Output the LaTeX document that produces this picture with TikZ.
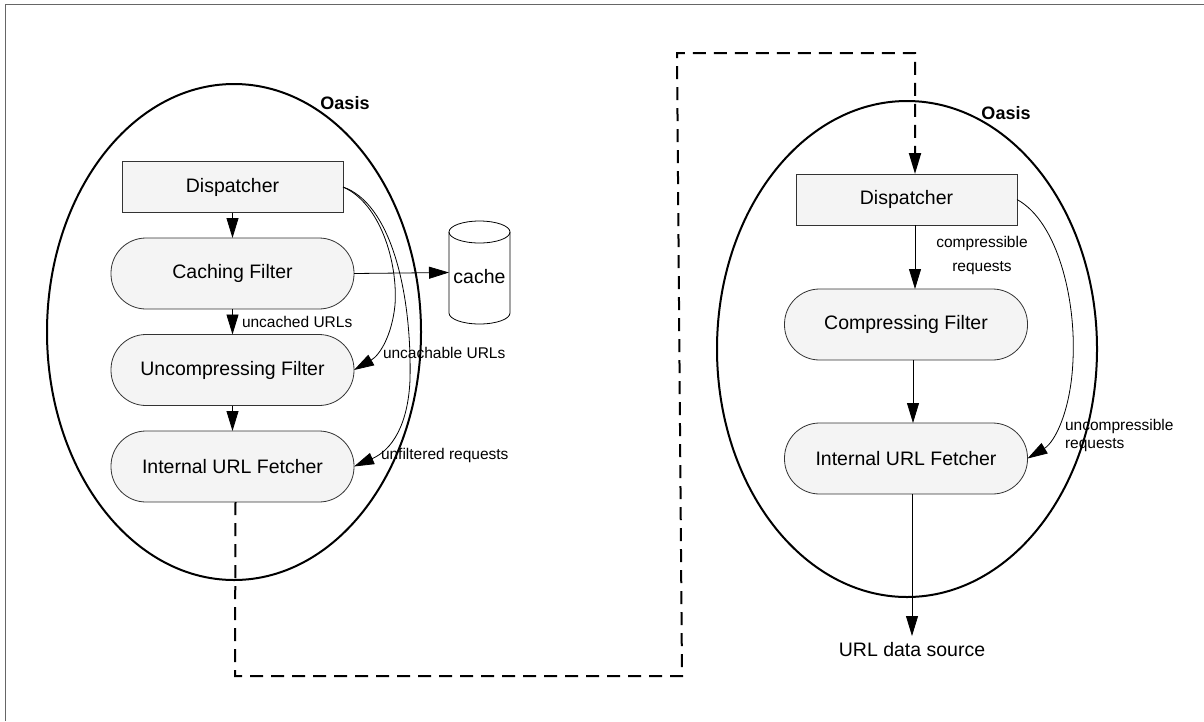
\documentclass[tikz,border=0pt]{standalone}
\usepackage{fontspec}
\setmainfont{Liberation Sans}
\usetikzlibrary{arrows.meta,shapes.geometric,calc}

\definecolor{boxfill}{HTML}{F4F4F4}
\definecolor{framegray}{HTML}{666666}

\begin{document}
\begin{tikzpicture}[x=1pt,y=-1pt,
  every node/.style={inner sep=0pt, outer sep=0pt},
  bigtxt/.style={font=\fontsize{19.5}{23}\selectfont},
  smalltxt/.style={font=\fontsize{15.5}{19}\selectfont},
  oasisring/.style={draw, ellipse, line width=2pt, inner sep=0pt},
  oasislabel/.style={font=\fontsize{18}{21}\selectfont\bfseries},
  dispbox/.style={draw=black!80, fill=boxfill, line width=0.8pt,
    minimum width=221pt, minimum height=51pt, bigtxt},
  filterbox/.style={draw=black!80, fill=boxfill, line width=0.8pt,
    rounded corners=35pt, minimum width=243pt, minimum height=71pt, bigtxt},
  flow/.style={line width=0.8pt, -{Triangle[length=20pt,width=12pt]}},
  hop/.style={line width=2pt, dash pattern=on 13pt off 8pt,
    -{Triangle[length=21pt,width=12pt]}},
]
\useasboundingbox (0,0) rectangle (1204,721);

% page frame (top and left edges)
\draw[framegray, line width=1.5pt] (5.5,721) -- (5.5,4.5) -- (1204,4.5);

% ---------- first Oasis node ----------
\node[oasisring, minimum width=374pt, minimum height=496pt] (oasisL) at (234,332) {};
\node[oasislabel] (oasisLlbl) at (345,103) {Oasis};

\node[dispbox] (dispL) at (232.5,187) {Dispatcher};
\node[filterbox] (cacheF) at (232.5,273.5) {Caching Filter};
\node[filterbox] (uncomp) at (232.5,370) {Uncompressing Filter};
\node[filterbox] (fetchL) at (232.5,466.5) {Internal URL Fetcher};

% cache store (cylinder drawn round an empty placeholder node)
\node[minimum width=61pt, minimum height=103pt] (cache) at (479.5,272.5) {};
\draw[line width=0.8pt, fill=white]
  (449,232) -- (449,313) arc[start angle=180, end angle=360, x radius=30.5pt, y radius=11pt]
  -- (510,232);
\draw[line width=0.8pt] (479.5,232) ellipse[x radius=30.5pt, y radius=11pt];
\node[bigtxt] (cachetxt) at (479.5,277) {cache};

\draw[flow] (dispL) -- (cacheF);
\draw[flow] (cacheF) -- (uncomp);
\draw[flow] (uncomp) -- (fetchL);
\draw[flow] (cacheF.east) -- (cache.west);

\node[smalltxt, anchor=west] (lblUncached) at (242,322) {uncached URLs};

% bypass routes out of the dispatcher
\draw[flow] (dispL.east)
  .. controls (380,203) and (398,262) .. (395,305)
  .. controls (392,335) and (380,355) .. (uncomp.east);
\draw[flow] (dispL.east)
  .. controls (390,203) and (412,290) .. (410,380)
  .. controls (408,425) and (392,450) .. (fetchL.east);
\node[smalltxt, anchor=west] (lblUncachable) at (383,353) {uncachable URLs};
\node[smalltxt, anchor=west] (lblUnfiltered) at (381,455) {unfiltered requests};

% ---------- second Oasis node ----------
\node[oasisring, minimum width=380pt, minimum height=496pt] (oasisR) at (907,349) {};
\node[oasislabel] (oasisRlbl) at (1006,113) {Oasis};

\node[dispbox] (dispR) at (906.5,199.5) {Dispatcher};
\node[filterbox] (compF) at (906,324.5) {Compressing Filter};
\node[filterbox] (fetchR) at (906,458.5) {Internal URL Fetcher};
\coordinate (source) at (912,636);
\node[bigtxt] (sourcelbl) at (912,650) {URL data source};

\draw[flow] ([xshift=8.5pt]dispR.south) -- ([xshift=9pt]compF.north);
\draw[flow] ([xshift=7pt]compF.south) -- ([xshift=7pt]fetchR.north);
\draw[flow] ([xshift=6pt]fetchR.south) -- (source);

\node[smalltxt, align=center] (lblCompr) at (982,255.5) {compressible\\[5pt]requests};

\draw[flow] (dispR.east)
  .. controls (1058,222) and (1076,300) .. (1073,360)
  .. controls (1071,410) and (1055,442) .. (fetchR.east);
\node[smalltxt, align=left, anchor=west] (lblUncompr) at (1065,435.5) {uncompressible\\[-1pt]requests};

% ---------- link between the two Oasis nodes ----------
\draw[hop] ([xshift=3pt]fetchL.south) -- (235,676) -- (682,676) -- (677,53)
  -- (915,53) -- ([xshift=8.5pt]dispR.north);

\end{tikzpicture}
\end{document}
